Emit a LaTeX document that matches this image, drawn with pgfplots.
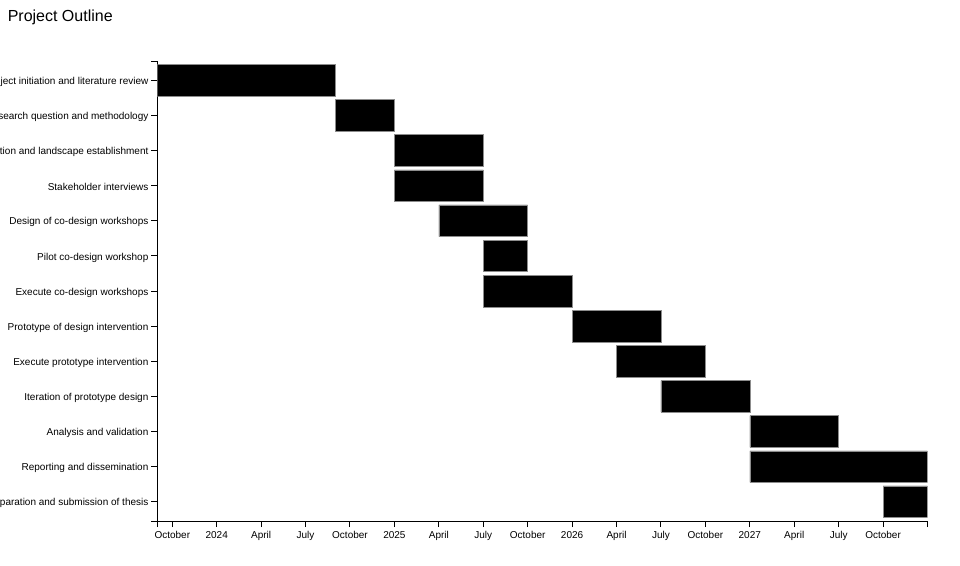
\documentclass[border=0pt]{standalone}
\usepackage{fontspec}
\setmainfont{Liberation Sans}
\usepackage{pgfplots}
\pgfplotsset{compat=1.18}
\begin{document}
\begin{tikzpicture}
\useasboundingbox (-118.125pt,-33pt) rectangle (601.875pt,390.75pt);
\begin{axis}[
  at={(0pt,0pt)}, anchor=south west,
  scale only axis,
  width=577.5pt, height=345pt,
  xbar stacked,
  bar width=0.9,
  y dir=reverse,
  xmin=8, xmax=60,
  ymin=0.45, ymax=13.55,
  axis x line=bottom, axis y line=left,
  axis line style={-, line width=0.75pt},
  tick align=outside,
  major tick length=4.5pt,
  every tick/.style={black, line width=0.75pt},
  tick label style={font=\fontsize{7.5}{9}\selectfont},
  yticklabel style={xshift=1.2pt, yshift=-1.2pt},
  /pgf/number format/assume math mode=true,
  xtick={9,12,15,18,21,24,27,30,33,36,39,42,45,48,51,54,57},
  xticklabels={October,2024,April,July,October,2025,April,July,October,2026,April,July,October,2027,April,July,October},
  extra x ticks={8,60}, extra x tick labels={},
  ytick={1,2,3,4,5,6,7,8,9,10,11,12,13},
  yticklabels={Project initiation and literature review,Research question and methodology,Exploration and landscape establishment,Stakeholder interviews,Design of co-design workshops,Pilot co-design workshop,Execute co-design workshops,Prototype of design intervention,Execute prototype intervention,Iteration of prototype design,Analysis and validation,Reporting and dissemination,Preparation and submission of thesis},
  extra y ticks={0.45,13.55}, extra y tick labels={},
  clip=true,
]
% invisible offsets (start month, Jan 2023 = 0)
\addplot[draw=none, fill=none] coordinates {
(8,1) (20,2) (24,3) (24,4) (27,5) (30,6) (30,7) (36,8) (39,9) (42,10) (48,11) (48,12) (57,13)};
% durations in months
\addplot[fill=black, draw=white!55!black, line width=0.4pt] coordinates {
(12,1) (4,2) (6,3) (6,4) (6,5) (3,6) (6,7) (6,8) (6,9) (6,10) (6,11) (12,12) (3,13)};
\end{axis}
\node[anchor=base west, inner sep=0pt, font=\fontsize{12}{14}\selectfont] at (-112.5pt,374.5pt) {Project Outline};
\end{tikzpicture}
\end{document}
